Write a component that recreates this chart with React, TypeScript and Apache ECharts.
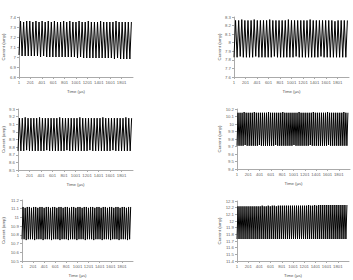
import React, { useEffect, useRef } from "react";
import * as echarts from "echarts";

// x-axis categories: time samples 1..2000 (µs); labels shown every 200
const timeCount = 2000;

// Per-panel oscillation: peak and trough values of each cycle
const p1Peaks = [
  7.36, 7.35, 7.36, 7.36, 7.35, 7.36, 7.35, 7.36, 7.35, 7.36,
  7.35, 7.36, 7.35, 7.35, 7.36, 7.35, 7.36, 7.35, 7.35, 7.36,
  7.35, 7.35, 7.36, 7.35, 7.35, 7.35, 7.36, 7.35, 7.35, 7.35,
  7.35, 7.36, 7.35, 7.35, 7.35, 7.35, 7.35,
];
const p1Troughs = [
  7.02, 7.01, 7.01, 7.01, 7.01, 7.01, 7.01, 7.0, 7.01, 7.0,
  7.0, 7.0, 7.0, 7.0, 7.0, 7.0, 7.0, 7.0, 7.0, 6.99,
  7.0, 6.99, 6.99, 6.99, 6.99, 6.99, 6.99, 6.99, 6.99, 6.99,
  6.99, 6.98, 6.99, 6.98, 6.98, 6.98, 6.98,
];
const p2Peaks = [
  8.26, 8.26, 8.27, 8.26, 8.26, 8.26, 8.27, 8.26, 8.26, 8.26,
  8.26, 8.27, 8.26, 8.26, 8.26, 8.26, 8.26, 8.27, 8.26, 8.26,
  8.26, 8.26, 8.26, 8.26, 8.27, 8.26, 8.26, 8.26, 8.26, 8.26,
  8.26, 8.26, 8.25, 8.26, 8.26, 8.26, 8.26,
];
const p2Troughs = [
  7.83, 7.83, 7.84, 7.83, 7.83, 7.83, 7.83, 7.84, 7.83, 7.83,
  7.83, 7.83, 7.83, 7.84, 7.83, 7.83, 7.83, 7.83, 7.83, 7.83,
  7.84, 7.83, 7.83, 7.83, 7.83, 7.83, 7.83, 7.83, 7.84, 7.83,
  7.83, 7.83, 7.83, 7.83, 7.83, 7.83, 7.83,
];
const p3Peaks = [
  9.18, 9.18, 9.19, 9.18, 9.18, 9.18, 9.18, 9.19, 9.18, 9.18,
  9.18, 9.18, 9.18, 9.18, 9.19, 9.18, 9.18, 9.18, 9.18, 9.18,
  9.18, 9.19, 9.18, 9.18, 9.18, 9.18, 9.18, 9.18, 9.18, 9.19,
  9.18, 9.18, 9.18, 9.18, 9.18, 9.18, 9.18, 9.19, 9.18, 9.18,
];
const p3Troughs = [
  8.75, 8.75, 8.75, 8.76, 8.75, 8.75, 8.75, 8.75, 8.75, 8.75,
  8.76, 8.75, 8.75, 8.75, 8.75, 8.75, 8.75, 8.76, 8.75, 8.75,
  8.75, 8.75, 8.75, 8.75, 8.75, 8.76, 8.75, 8.75, 8.75, 8.75,
  8.75, 8.75, 8.75, 8.76, 8.75, 8.75, 8.75, 8.75, 8.75, 8.75,
];
const p4Peaks = [
  10.15, 10.15, 10.15, 10.16, 10.15, 10.15, 10.15, 10.15, 10.16, 10.15,
  10.15, 10.15, 10.15, 10.15, 10.15, 10.16, 10.15, 10.15, 10.15, 10.15,
  10.15, 10.15, 10.16, 10.15, 10.15, 10.15, 10.15, 10.15, 10.15, 10.15,
  10.16, 10.15, 10.15, 10.15, 10.15, 10.15, 10.15, 10.16, 10.15, 10.15,
  10.15, 10.15, 10.15, 10.15, 10.16, 10.15, 10.15, 10.15, 10.15, 10.15,
  10.15, 10.15, 10.16, 10.15, 10.15,
];
const p4Troughs = [
  9.71, 9.71, 9.71, 9.71, 9.72, 9.71, 9.71, 9.71, 9.71, 9.71,
  9.71, 9.72, 9.71, 9.71, 9.71, 9.71, 9.71, 9.71, 9.71, 9.72,
  9.71, 9.71, 9.71, 9.71, 9.71, 9.71, 9.71, 9.71, 9.72, 9.71,
  9.71, 9.71, 9.71, 9.71, 9.71, 9.71, 9.72, 9.71, 9.71, 9.71,
  9.71, 9.71, 9.71, 9.71, 9.71, 9.72, 9.71, 9.71, 9.71, 9.71,
  9.71, 9.71, 9.71, 9.71, 9.71,
];
const p5Peaks = [
  11.12, 11.11, 11.12, 11.12, 11.11, 11.12, 11.12, 11.11, 11.12, 11.12,
  11.11, 11.12, 11.12, 11.11, 11.12, 11.12, 11.11, 11.12, 11.12, 11.11,
  11.12, 11.12, 11.11, 11.12, 11.12, 11.11, 11.12, 11.12, 11.11, 11.12,
  11.12, 11.11, 11.12, 11.12, 11.11, 11.12, 11.12, 11.11, 11.12, 11.12,
  11.11, 11.12, 11.12, 11.11, 11.12, 11.12, 11.11, 11.12, 11.12, 11.11,
  11.12, 11.12,
];
const p5Troughs = [
  10.75, 10.75, 10.74, 10.75, 10.75, 10.75, 10.74, 10.75, 10.75, 10.75,
  10.74, 10.75, 10.75, 10.75, 10.74, 10.75, 10.75, 10.75, 10.74, 10.75,
  10.75, 10.75, 10.74, 10.75, 10.75, 10.75, 10.74, 10.75, 10.75, 10.75,
  10.74, 10.75, 10.75, 10.75, 10.74, 10.75, 10.75, 10.75, 10.74, 10.75,
  10.75, 10.75, 10.74, 10.75, 10.75, 10.75, 10.74, 10.75, 10.75, 10.75,
  10.74, 10.75,
];
const p6Peaks = [
  12.22, 12.22, 12.22, 12.22, 12.22, 12.22, 12.22, 12.22, 12.22, 12.22,
  12.22, 12.22, 12.23, 12.22, 12.22, 12.23, 12.22, 12.23, 12.23, 12.22,
  12.23, 12.23, 12.23, 12.23, 12.23, 12.23, 12.23, 12.23, 12.23, 12.23,
  12.23, 12.23, 12.23, 12.23, 12.23, 12.24, 12.23, 12.23, 12.24, 12.23,
  12.24, 12.24, 12.24, 12.24, 12.24, 12.24, 12.24, 12.24, 12.24, 12.24,
  12.24, 12.24, 12.24, 12.24, 12.24,
];
const p6Troughs = [
  11.73, 11.73, 11.73, 11.73, 11.73, 11.73, 11.73, 11.73, 11.73, 11.73,
  11.73, 11.73, 11.73, 11.73, 11.73, 11.73, 11.73, 11.73, 11.73, 11.73,
  11.73, 11.73, 11.73, 11.73, 11.73, 11.73, 11.73, 11.73, 11.73, 11.73,
  11.73, 11.73, 11.73, 11.73, 11.73, 11.73, 11.73, 11.73, 11.73, 11.73,
  11.73, 11.73, 11.73, 11.73, 11.73, 11.73, 11.73, 11.73, 11.73, 11.73,
  11.73, 11.73, 11.73, 11.73, 11.73,
];

// cycle length (samples) observed in each panel
const periods = [54, 54, 50, 36, 38, 36];

// y-axis ranges [min, max]
const yRanges = [
  [6.8, 7.4],
  [7.6, 8.3],
  [8.5, 9.3],
  [9.4, 10.2],
  [10.5, 11.2],
  [11.4, 12.3],
];

const peaksList = [p1Peaks, p2Peaks, p3Peaks, p4Peaks, p5Peaks, p6Peaks];
const troughsList = [p1Troughs, p2Troughs, p3Troughs, p4Troughs, p5Troughs, p6Troughs];

// layout (px)
const grids = [
  { left: 18, top: 17, width: 115, height: 60, nameGap: 14 },
  { left: 234, top: 17, width: 115, height: 60, nameGap: 12 },
  { left: 18, top: 109, width: 115, height: 61, nameGap: 13 },
  { left: 237, top: 109, width: 113, height: 60, nameGap: 15 },
  { left: 21, top: 200, width: 112, height: 61, nameGap: 17 },
  { left: 237, top: 201, width: 112, height: 60, nameGap: 15 },
];

const FONT = "Liberation Sans";

function buildSeries(peaks: number[], troughs: number[], period: number) {
  const arr: (number | null)[] = new Array(timeCount).fill(null);
  const half = period / 2;
  for (let k = 0; k < peaks.length; k++) {
    const ti = Math.round(k * period);
    const pi = Math.round(k * period + half);
    if (ti < timeCount) arr[ti] = troughs[k];
    if (pi < timeCount) arr[pi] = peaks[k];
  }
  return arr;
}

export default function App() {
  const ref = useRef<HTMLDivElement>(null);
  useEffect(() => {
    if (!ref.current) return;
    const chart = echarts.init(ref.current, undefined, { renderer: "svg" });
    const categories: string[] = [];
    for (let i = 1; i <= timeCount; i++) categories.push(String(i));

    const option: any = {
      animation: false,
      backgroundColor: "#ffffff",
      grid: grids.map((g) => ({
        left: g.left,
        top: g.top,
        width: g.width,
        height: g.height,
        containLabel: false,
      })),
      xAxis: grids.map((g, i) => ({
        type: "category",
        gridIndex: i,
        data: categories,
        boundaryGap: false,
        name: "Time (µs)",
        nameLocation: "middle",
        nameGap: 12,
        nameTextStyle: { fontFamily: FONT, fontSize: 4.3, color: "#555" },
        axisLine: { show: true, lineStyle: { color: "#aaa", width: 1 } },
        axisTick: { show: true, interval: 199, length: 2, lineStyle: { color: "#aaa" } },
        axisLabel: {
          interval: 199,
          fontFamily: FONT,
          fontSize: 4.3,
          color: "#666",
          margin: 3,
        },
        splitLine: { show: false },
      })),
      yAxis: grids.map((g, i) => ({
        type: "value",
        gridIndex: i,
        min: yRanges[i][0],
        max: yRanges[i][1],
        interval: 0.1,
        name: "Current (amp)",
        nameLocation: "middle",
        nameRotate: 90,
        nameGap: g.nameGap,
        nameTextStyle: { fontFamily: FONT, fontSize: 4.3, color: "#555" },
        axisLine: { show: true, lineStyle: { color: "#aaa", width: 1 } },
        axisTick: { show: true, length: 2, lineStyle: { color: "#aaa" } },
        axisLabel: {
          fontFamily: FONT,
          fontSize: 4.3,
          color: "#666",
          margin: 3,
          formatter: (v: number) => String(Math.round(v * 10) / 10),
        },
        splitLine: { show: false },
      })),
      series: grids.map((_, i) => ({
        type: "line",
        xAxisIndex: i,
        yAxisIndex: i,
        data: buildSeries(peaksList[i], troughsList[i], periods[i]),
        connectNulls: true,
        showSymbol: false,
        symbol: "none",
        lineStyle: { color: "#000", width: 1 },
        silent: true,
      })),
    };
    chart.setOption(option);
    return () => chart.dispose();
  }, []);
  return (
    <div
      ref={ref}
      style={{ position: "fixed", left: 0, top: 0, width: 353, height: 280, background: "#fff" }}
    />
  );
}
